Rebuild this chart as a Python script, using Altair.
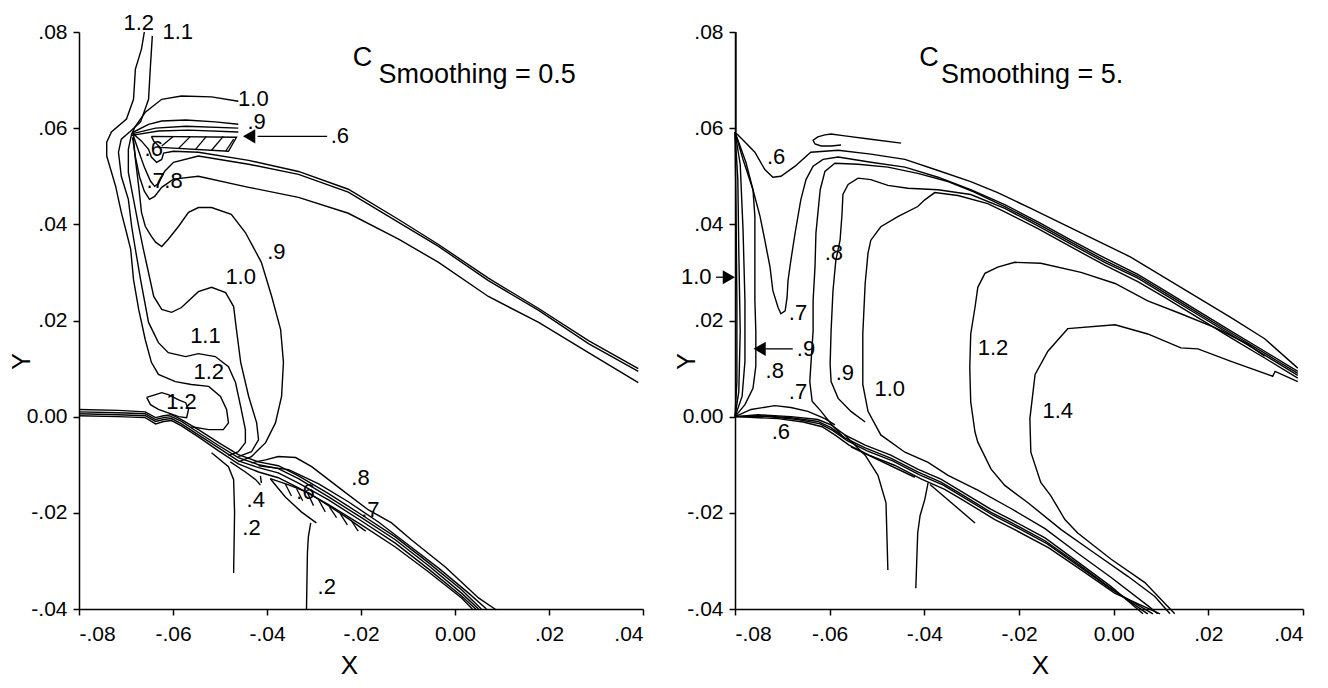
import altair as alt
import pandas as pd

FONT = "Liberation Sans"
X_TICKS = [-0.08, -0.06, -0.04, -0.02, 0.0, 0.02, 0.04]
Y_TICKS = [-0.04, -0.02, 0.0, 0.02, 0.04, 0.06, 0.08]

# ---------------- LEFT PANEL (C_smoothing = 0.5) : contour polylines (X, Y) ----------------
l_c12_outer = [(-0.0661,0.0800),(-0.0667,0.0765),(-0.0680,0.0723),(-0.0684,0.0660),(-0.0699,0.0619),(-0.0731,0.0592),
               (-0.0741,0.0571),(-0.0741,0.0542),(-0.0722,0.0479),(-0.0710,0.0425),(-0.0699,0.0383),(-0.0690,0.0348),
               (-0.0684,0.0285),(-0.0673,0.0223),(-0.0659,0.0160),(-0.0646,0.0113),(-0.0631,0.0088),(-0.0595,0.0073),
               (-0.0561,0.0067),(-0.0524,0.0063),(-0.0499,0.0042),(-0.0486,0.0015),(-0.0482,-0.0013),(-0.0493,-0.0027),
               (-0.0524,-0.0027),(-0.0561,-0.0021)]
l_c11 = [(-0.0644,0.0792),(-0.0648,0.0729),(-0.0652,0.0660),(-0.0669,0.0613),(-0.0690,0.0594),(-0.0710,0.0577),
         (-0.0716,0.0550),(-0.0710,0.0500),(-0.0695,0.0452),(-0.0688,0.0396),(-0.0680,0.0348),(-0.0669,0.0285),
         (-0.0652,0.0196),(-0.0631,0.0154),(-0.0610,0.0133),(-0.0573,0.0125),(-0.0546,0.0131),(-0.0510,0.0125),
         (-0.0482,0.0104),(-0.0467,0.0071),(-0.0456,0.0021),(-0.0446,-0.0027),(-0.0446,-0.0054),(-0.0461,-0.0073),
         (-0.0482,-0.0081)]
l_c10 = [(-0.0461,0.0656),(-0.0518,0.0665),(-0.0582,0.0667),(-0.0624,0.0660),(-0.0659,0.0633),(-0.0680,0.0604),
         (-0.0688,0.0588),(-0.0695,0.0556),(-0.0695,0.0508),(-0.0684,0.0452),(-0.0673,0.0396),(-0.0663,0.0348),
         (-0.0656,0.0317),(-0.0641,0.0250),(-0.0624,0.0223),(-0.0603,0.0217),(-0.0582,0.0227),(-0.0546,0.0260),
         (-0.0518,0.0269),(-0.0488,0.0258),(-0.0471,0.0229),(-0.0465,0.0181),(-0.0456,0.0113),(-0.0439,0.0042),
         (-0.0422,-0.0013),(-0.0418,-0.0048),(-0.0433,-0.0073),(-0.0461,-0.0083)]
l_c09 = [(-0.0461,0.0608),(-0.0510,0.0613),(-0.0573,0.0617),(-0.0624,0.0615),(-0.0652,0.0608),(-0.0684,0.0592),
         (-0.0684,0.0577),(-0.0680,0.0535),(-0.0673,0.0479),(-0.0667,0.0425),(-0.0659,0.0396),(-0.0646,0.0375),
         (-0.0637,0.0363),(-0.0624,0.0354),(-0.0610,0.0369),(-0.0588,0.0396),(-0.0567,0.0425),(-0.0546,0.0435),
         (-0.0518,0.0435),(-0.0476,0.0421),(-0.0446,0.0383),(-0.0429,0.0352),(-0.0412,0.0321),(-0.0390,0.0250),
         (-0.0371,0.0181),(-0.0365,0.0113),(-0.0369,0.0042),(-0.0382,-0.0013),(-0.0403,-0.0054),(-0.0433,-0.0083),
         (-0.0461,-0.0094)]
l_above_1 = [(-0.0688,0.0588),(-0.0637,0.0600),(-0.0573,0.0604),(-0.0461,0.0600)]
l_above_2 = [(-0.0688,0.0585),(-0.0631,0.0594),(-0.0567,0.0596),(-0.0461,0.0592)]
l_body_top = [(-0.0646,0.0583),(-0.0465,0.0581),(-0.0482,0.0552),(-0.0627,0.0560),(-0.0641,0.0573),(-0.0646,0.0583)]
l_c06 = [(-0.0684,0.0588),(-0.0667,0.0573),(-0.0652,0.0556),(-0.0646,0.0540),(-0.0635,0.0529),(-0.0624,0.0535),
         (-0.0620,0.0548),(-0.0599,0.0552),(-0.0546,0.0550),(-0.0439,0.0533),(-0.0333,0.0510),(-0.0227,0.0473),
         (-0.0120,0.0410),(-0.0035,0.0358),(0.0071,0.0288),(0.0178,0.0225),(0.0284,0.0158),(0.0390,0.0100)]
l_c07 = [(-0.0684,0.0583),(-0.0673,0.0552),(-0.0661,0.0519),(-0.0648,0.0490),(-0.0639,0.0479),(-0.0631,0.0485),
         (-0.0618,0.0510),(-0.0599,0.0529),(-0.0546,0.0542),(-0.0439,0.0525),(-0.0333,0.0504),(-0.0227,0.0467),
         (-0.0120,0.0404),(-0.0035,0.0354),(0.0071,0.0283),(0.0178,0.0221),(0.0284,0.0152),(0.0390,0.0094)]
l_c08 = [(-0.0686,0.0581),(-0.0680,0.0540),(-0.0671,0.0498),(-0.0661,0.0469),(-0.0650,0.0452),(-0.0639,0.0458),
         (-0.0624,0.0477),(-0.0599,0.0494),(-0.0546,0.0500),(-0.0439,0.0477),(-0.0333,0.0456),(-0.0227,0.0423),
         (-0.0120,0.0369),(-0.0035,0.0321),(0.0071,0.0250),(0.0178,0.0196),(0.0284,0.0133),(0.0390,0.0071)]
l_wall_1 = [(-0.0800,0.0015),(-0.0716,0.0013),(-0.0659,0.0010),(-0.0637,-0.0002),(-0.0620,0.0002),(-0.0603,0.0004),
            (-0.0582,-0.0006),(-0.0546,-0.0027),(-0.0503,-0.0054),(-0.0461,-0.0079),(-0.0418,-0.0094),(-0.0376,-0.0102),
            (-0.0333,-0.0123),(-0.0269,-0.0160),(-0.0199,-0.0204),(-0.0127,-0.0250),(-0.0056,-0.0304),(0.0014,-0.0360),
            (0.0056,-0.0400)]
l_wall_2 = [(-0.0800,0.0010),(-0.0716,0.0008),(-0.0659,0.0006),(-0.0637,-0.0006),(-0.0620,-0.0002),(-0.0603,0.0000),
            (-0.0582,-0.0010),(-0.0546,-0.0033),(-0.0503,-0.0060),(-0.0461,-0.0085),(-0.0418,-0.0100),(-0.0376,-0.0108),
            (-0.0333,-0.0129),(-0.0269,-0.0167),(-0.0199,-0.0210),(-0.0127,-0.0256),(-0.0056,-0.0310),(0.0014,-0.0367),
            (0.0050,-0.0400)]
l_wall_3 = [(-0.0800,0.0006),(-0.0716,0.0004),(-0.0659,0.0002),(-0.0637,-0.0010),(-0.0620,-0.0006),(-0.0603,-0.0004),
            (-0.0582,-0.0015),(-0.0546,-0.0038),(-0.0503,-0.0065),(-0.0461,-0.0092),(-0.0418,-0.0106),(-0.0376,-0.0117),
            (-0.0333,-0.0138),(-0.0269,-0.0173),(-0.0199,-0.0217),(-0.0127,-0.0263),(-0.0056,-0.0317),(0.0014,-0.0373),
            (0.0044,-0.0400)]
l_wall_4 = [(-0.0800,0.0002),(-0.0716,0.0000),(-0.0659,-0.0002),(-0.0637,-0.0015),(-0.0620,-0.0010),(-0.0603,-0.0008),
            (-0.0582,-0.0019),(-0.0546,-0.0042),(-0.0503,-0.0071),(-0.0461,-0.0098),(-0.0418,-0.0115),(-0.0376,-0.0127),
            (-0.0333,-0.0148),(-0.0269,-0.0183),(-0.0199,-0.0225),(-0.0127,-0.0271),(-0.0056,-0.0323),(0.0014,-0.0377),
            (0.0037,-0.0400)]
l_lower_08 = [(-0.0433,-0.0096),(-0.0403,-0.0090),(-0.0376,-0.0083),(-0.0339,-0.0085),(-0.0305,-0.0104),(-0.0269,-0.0131),
              (-0.0233,-0.0158),(-0.0184,-0.0194),(-0.0135,-0.0221),(-0.0093,-0.0256),(-0.0020,-0.0313),(0.0050,-0.0377),
              (0.0088,-0.0402)]
l_lower_07 = [(-0.0418,-0.0102),(-0.0354,-0.0110),(-0.0290,-0.0140),(-0.0227,-0.0177),(-0.0163,-0.0219),(-0.0099,-0.0267),
              (-0.0035,-0.0315),(0.0029,-0.0367),(0.0067,-0.0400)]
l_island_12 = [(-0.0656,0.0040),(-0.0637,0.0046),(-0.0624,0.0050),(-0.0610,0.0046),(-0.0588,0.0035),(-0.0573,0.0029),
               (-0.0567,0.0015),(-0.0571,-0.0002),(-0.0588,0.0000),(-0.0610,0.0008),(-0.0631,0.0015),(-0.0648,0.0025),
               (-0.0656,0.0040)]
l_c02_a = [(-0.0518,-0.0075),(-0.0482,-0.0104),(-0.0471,-0.0131),(-0.0469,-0.0200),(-0.0471,-0.0325)]
l_c04 = [(-0.0478,-0.0094),(-0.0446,-0.0115),(-0.0424,-0.0131),(-0.0414,-0.0142)]
l_c04_hook = [(-0.0414,-0.0123),(-0.0412,-0.0138)]
l_c02_b = [(-0.0307,-0.0221),(-0.0312,-0.0250),(-0.0314,-0.0283),(-0.0316,-0.0402)]
l_body_low_lo = [(-0.0393,-0.0129),(-0.0361,-0.0167),(-0.0327,-0.0198),(-0.0295,-0.0221)]
l_body_low_up = [(-0.0393,-0.0129),(-0.0354,-0.0142),(-0.0312,-0.0158),(-0.0269,-0.0185),(-0.0227,-0.0212),(-0.0190,-0.0238)]

left_lines = {
    "c12o": l_c12_outer, "c11": l_c11, "c10": l_c10, "c09": l_c09, "ab1": l_above_1, "ab2": l_above_2,
    "bt": l_body_top, "c06": l_c06, "c07": l_c07, "c08": l_c08, "w1": l_wall_1, "w2": l_wall_2,
    "w3": l_wall_3, "w4": l_wall_4, "lo8": l_lower_08, "lo7": l_lower_07, "isl": l_island_12,
    "c2a": l_c02_a, "c4": l_c04, "c4h": l_c04_hook, "c2b": l_c02_b, "blo": l_body_low_lo, "bup": l_body_low_up,
}

# hatching strokes and arrow shafts (x, y, x2, y2)
left_segments = [
    (-0.0624,0.0563,-0.0599,0.0583),(-0.0588,0.0558,-0.0563,0.0583),(-0.0552,0.0556,-0.0529,0.0583),
    (-0.0518,0.0554,-0.0493,0.0583),(-0.0488,0.0552,-0.0471,0.0577),
    (-0.0361,-0.0140,-0.0348,-0.0165),(-0.0337,-0.0150,-0.0324,-0.0175),(-0.0314,-0.0158,-0.0301,-0.0185),
    (-0.0290,-0.0173,-0.0276,-0.0198),(-0.0267,-0.0188,-0.0252,-0.0210),(-0.0244,-0.0202,-0.0229,-0.0225),
    (-0.0220,-0.0217,-0.0206,-0.0238),
    (-0.0272,0.0583,-0.0420,0.0583),
]
left_heads = [(-0.0438,0.0583,"L")]
left_labels = [
    ("1.2",-0.0673,0.0819),("1.1",-0.0590,0.0800),("1.0",-0.0429,0.0660),(".9",-0.0422,0.0613),
    (".6",-0.0245,0.0583),(".6",-0.0641,0.0556),(".7",-0.0637,0.0490),(".8",-0.0599,0.0490),
    (".9",-0.0380,0.0342),("1.0",-0.0456,0.0290),("1.1",-0.0531,0.0167),("1.2",-0.0524,0.0092),
    ("1.2",-0.0582,0.0031),(".8",-0.0201,-0.0127),(".7",-0.0180,-0.0194),(".6",-0.0318,-0.0156),
    (".4",-0.0424,-0.0173),(".2",-0.0433,-0.0231),(".2",-0.0273,-0.0354),
]
left_title = [("C",-0.0197,0.0746,"center"),("Smoothing = 0.5",-0.0163,0.0711,"left")]

# ---------------- RIGHT PANEL (C_smoothing = 5.) ----------------
r_axis_top = [(-0.0798,0.0800),(-0.0798,0.0592)]
r_a1 = [(-0.0800,0.0592),(-0.0798,0.0451),(-0.0796,0.0241),(-0.0796,0.0073),(-0.0800,0.0000)]
r_a2 = [(-0.0800,0.0592),(-0.0794,0.0493),(-0.0792,0.0346),(-0.0789,0.0178),(-0.0792,0.0052),(-0.0800,0.0000)]
r_a3 = [(-0.0800,0.0592),(-0.0789,0.0525),(-0.0783,0.0388),(-0.0779,0.0241),(-0.0779,0.0115),(-0.0785,0.0042),(-0.0800,0.0000)]
r_a4 = [(-0.0800,0.0592),(-0.0777,0.0529),(-0.0762,0.0472),(-0.0758,0.0416),(-0.0758,0.0241),(-0.0756,0.0178),
        (-0.0756,0.0105),(-0.0762,0.0059),(-0.0779,0.0025),(-0.0800,0.0000)]
r_c06 = [(-0.0800,0.0592),(-0.0779,0.0571),(-0.0758,0.0550),(-0.0737,0.0514),(-0.0720,0.0498),(-0.0703,0.0500),
         (-0.0673,0.0521),(-0.0640,0.0550),(-0.0582,0.0554),(-0.0513,0.0546),(-0.0441,0.0535),(-0.0371,0.0512),
         (-0.0302,0.0489),(-0.0245,0.0466),(-0.0175,0.0433),(-0.0069,0.0382),(0.0036,0.0332),(0.0142,0.0269),
         (0.0248,0.0206),(0.0319,0.0162),(0.0389,0.0101)]
r_c07 = [(-0.0800,0.0592),(-0.0783,0.0535),(-0.0762,0.0472),(-0.0747,0.0416),(-0.0737,0.0367),(-0.0726,0.0311),
         (-0.0720,0.0262),(-0.0709,0.0227),(-0.0703,0.0214),(-0.0694,0.0220),(-0.0690,0.0248),(-0.0688,0.0283),
         (-0.0682,0.0325),(-0.0673,0.0382),(-0.0661,0.0451),(-0.0650,0.0493),(-0.0635,0.0521),(-0.0614,0.0535),
         (-0.0582,0.0540),(-0.0513,0.0529),(-0.0441,0.0519),(-0.0371,0.0498),(-0.0302,0.0472),(-0.0230,0.0441),
         (-0.0160,0.0405),(-0.0090,0.0367),(-0.0019,0.0330),(0.0051,0.0296),(0.0108,0.0262),(0.0178,0.0220),
         (0.0248,0.0178),(0.0319,0.0136),(0.0389,0.0094)]
r_c08 = [(-0.0568,-0.0046),(-0.0597,-0.0015),(-0.0618,0.0011),(-0.0637,0.0032),(-0.0642,0.0073),(-0.0635,0.0178),
         (-0.0635,0.0241),(-0.0631,0.0311),(-0.0629,0.0382),(-0.0620,0.0472),(-0.0610,0.0510),(-0.0589,0.0527),
         (-0.0540,0.0525),(-0.0477,0.0519),(-0.0414,0.0506),(-0.0350,0.0489),(-0.0297,0.0468),(-0.0230,0.0437),
         (-0.0160,0.0401),(-0.0090,0.0363),(-0.0019,0.0325),(0.0051,0.0292),(0.0108,0.0258),(0.0178,0.0216),
         (0.0248,0.0174),(0.0319,0.0132),(0.0389,0.0090)]
r_c09 = [(-0.0525,-0.0011),(-0.0555,0.0011),(-0.0582,0.0038),(-0.0597,0.0073),(-0.0599,0.0109),(-0.0597,0.0178),
         (-0.0593,0.0262),(-0.0587,0.0325),(-0.0578,0.0367),(-0.0574,0.0420),(-0.0572,0.0462),(-0.0561,0.0483),
         (-0.0540,0.0496),(-0.0513,0.0493),(-0.0477,0.0481),(-0.0435,0.0475),(-0.0371,0.0472),(-0.0302,0.0462),
         (-0.0230,0.0433),(-0.0160,0.0397),(-0.0090,0.0359),(-0.0019,0.0321),(0.0051,0.0288),(0.0108,0.0254),
         (0.0178,0.0212),(0.0248,0.0170),(0.0319,0.0128),(0.0389,0.0086)]
r_c10 = [(0.0093,-0.0410),(0.0072,-0.0393),(-0.0006,-0.0334),(-0.0076,-0.0284),(-0.0145,-0.0233),(-0.0217,-0.0191),
         (-0.0287,-0.0153),(-0.0350,-0.0122),(-0.0392,-0.0095),(-0.0441,-0.0074),(-0.0492,-0.0038),(-0.0519,0.0011),
         (-0.0530,0.0067),(-0.0530,0.0172),(-0.0525,0.0277),(-0.0519,0.0340),(-0.0513,0.0367),(-0.0492,0.0395),
         (-0.0456,0.0416),(-0.0414,0.0437),(-0.0399,0.0451),(-0.0378,0.0466),(-0.0329,0.0460),(-0.0266,0.0443),
         (-0.0230,0.0426),(-0.0160,0.0391),(-0.0090,0.0353),(-0.0019,0.0315),(0.0051,0.0281),(0.0108,0.0248),
         (0.0178,0.0206),(0.0248,0.0164),(0.0319,0.0122),(0.0389,0.0080)]
r_c12 = [(0.0319,0.0126),(0.0283,0.0151),(0.0214,0.0185),(0.0142,0.0214),(0.0072,0.0241),(0.0003,0.0277),
         (-0.0069,0.0300),(-0.0154,0.0319),(-0.0209,0.0321),(-0.0245,0.0311),(-0.0272,0.0298),(-0.0287,0.0269),
         (-0.0293,0.0227),(-0.0302,0.0172),(-0.0304,0.0101),(-0.0302,0.0031),(-0.0293,-0.0032),(-0.0287,-0.0053),
         (-0.0259,-0.0109),(-0.0230,-0.0143),(-0.0181,-0.0179),(-0.0111,-0.0235),(-0.0040,-0.0284),(0.0030,-0.0332),
         (0.0087,-0.0374),(0.0119,-0.0410)]
r_c14 = [(0.0389,0.0073),(0.0341,0.0094),(0.0336,0.0084),(0.0248,0.0115),(0.0178,0.0141),(0.0142,0.0143),
         (0.0072,0.0172),(0.0003,0.0191),(-0.0097,0.0183),(-0.0139,0.0136),(-0.0166,0.0088),(-0.0177,-0.0004),
         (-0.0175,-0.0074),(-0.0154,-0.0137),(-0.0133,-0.0164),(-0.0103,-0.0214),(-0.0076,-0.0242),(-0.0006,-0.0296),
         (0.0066,-0.0345),(0.0129,-0.0410)]
r_wall_1 = [(-0.0800,0.0000),(-0.0751,0.0004),(-0.0682,0.0000),(-0.0625,-0.0006),(-0.0597,-0.0017),(-0.0568,-0.0038),
            (-0.0525,-0.0059),(-0.0471,-0.0080),(-0.0414,-0.0109),(-0.0365,-0.0130),(-0.0329,-0.0151),(-0.0259,-0.0193),
            (-0.0217,-0.0214),(-0.0145,-0.0252),(-0.0076,-0.0302),(-0.0006,-0.0353),(0.0062,-0.0410)]
r_wall_2 = [(-0.0800,0.0000),(-0.0751,0.0002),(-0.0682,-0.0002),(-0.0625,-0.0010),(-0.0597,-0.0023),(-0.0568,-0.0044),
            (-0.0525,-0.0065),(-0.0471,-0.0086),(-0.0414,-0.0115),(-0.0365,-0.0136),(-0.0329,-0.0157),(-0.0259,-0.0199),
            (-0.0217,-0.0220),(-0.0145,-0.0258),(-0.0076,-0.0306),(-0.0006,-0.0357),(0.0072,-0.0410)]
r_wall_3 = [(-0.0800,0.0000),(-0.0730,0.0000),(-0.0667,-0.0006),(-0.0620,-0.0015),(-0.0593,-0.0029),(-0.0563,-0.0050),
            (-0.0521,-0.0071),(-0.0467,-0.0092),(-0.0410,-0.0121),(-0.0361,-0.0142),(-0.0325,-0.0163),(-0.0255,-0.0205),
            (-0.0213,-0.0226),(-0.0141,-0.0264),(-0.0072,-0.0312),(-0.0002,-0.0361),(0.0083,-0.0410)]
r_wall_4 = [(-0.0800,0.0000),(-0.0709,-0.0004),(-0.0656,-0.0011),(-0.0616,-0.0021),(-0.0589,-0.0038),(-0.0559,-0.0059),
            (-0.0517,-0.0080),(-0.0463,-0.0101),(-0.0406,-0.0130),(-0.0357,-0.0151),(-0.0321,-0.0172),(-0.0251,-0.0214),
            (-0.0209,-0.0235),(-0.0137,-0.0273),(-0.0068,-0.0319),(0.0002,-0.0367),(0.0098,-0.0410)]
r_hump = [(-0.0800,0.0000),(-0.0766,0.0015),(-0.0716,0.0023),(-0.0682,0.0019),(-0.0646,0.0011),(-0.0610,-0.0004),(-0.0589,-0.0017)]
r_v1 = [(-0.0568,-0.0038),(-0.0525,-0.0080),(-0.0498,-0.0122),(-0.0481,-0.0179),(-0.0477,-0.0319)]
r_v2 = [(-0.0392,-0.0137),(-0.0399,-0.0172),(-0.0409,-0.0206),(-0.0414,-0.0242),(-0.0418,-0.0357)]
r_diag = [(-0.0388,-0.0141),(-0.0293,-0.0221)]
r_under = [(-0.0555,-0.0063),(-0.0420,-0.0126)]
r_loop = [(-0.0449,0.0569),(-0.0513,0.0577),(-0.0568,0.0584),(-0.0597,0.0588),(-0.0610,0.0586),(-0.0625,0.0582),
          (-0.0635,0.0575),(-0.0631,0.0567),(-0.0618,0.0563),(-0.0597,0.0563),(-0.0576,0.0565)]

right_lines = {
    "ax": r_axis_top, "a1": r_a1, "a2": r_a2, "a3": r_a3, "a4": r_a4, "c06": r_c06, "c07": r_c07,
    "c08": r_c08, "c09": r_c09, "c10": r_c10, "c12": r_c12, "c14": r_c14, "w1": r_wall_1, "w2": r_wall_2,
    "w3": r_wall_3, "w4": r_wall_4, "hump": r_hump, "v1": r_v1, "v2": r_v2, "dg": r_diag, "un": r_under,
    "loop": r_loop,
}
right_segments = [(-0.0840,0.0290,-0.0822,0.0290),(-0.0678,0.0141,-0.0736,0.0141)]
right_heads = [(-0.0813,0.0290,"R"),(-0.0748,0.0141,"L")]
right_labels = [
    (".6",-0.0713,0.0540),(".8",-0.0591,0.0340),(".7",-0.0667,0.0216),(".8",-0.0716,0.0094),
    (".7",-0.0667,0.0052),(".9",-0.0568,0.0090),("1.0",-0.0473,0.0057),(".6",-0.0703,-0.0032),
    ("1.2",-0.0255,0.0143),("1.4",-0.0118,0.0011),(".9",-0.0650,0.0141),("1.0",-0.0882,0.0290),
]
right_title = [("C",-0.0390,0.0745,"center"),("Smoothing = 5.",-0.0365,0.0711,"left")]

LABEL_EXPR = ("datum.value == 0 ? '0.00' : "
              "replace(replace(replace(format(datum.value, '.2f'), '0.', '.'), '\u2212', '-'), '\u2013', '-')")


def panel(lines, segments, heads, labels, title, w, h, xtx, ytx, yty):
    xs = alt.Scale(domain=[-0.08, 0.04], nice=False, zero=False)
    ys = alt.Scale(domain=[-0.04, 0.08], nice=False, zero=False)
    rows = []
    for name, pts in lines.items():
        for i, (x, y) in enumerate(pts):
            rows.append({"id": name, "i": i, "x": x, "y": y})
    df_lines = pd.DataFrame(rows)
    df_seg = pd.DataFrame(segments, columns=["x", "y", "x2", "y2"])
    df_head = pd.DataFrame(heads, columns=["x", "y", "d"])
    df_lab = pd.DataFrame(labels, columns=["t", "x", "y"])
    df_tc = pd.DataFrame([t for t in title if t[3] == "center"], columns=["t", "x", "y", "a"])
    df_tl = pd.DataFrame([t for t in title if t[3] == "left"], columns=["t", "x", "y", "a"])

    xaxis = alt.Axis(values=X_TICKS, labelExpr=LABEL_EXPR, title="X", grid=False, tickSize=6,
                     labelPadding=8, titleX=xtx, titleY=56, titleAlign="center", titleBaseline="middle")
    yaxis = alt.Axis(values=Y_TICKS, labelExpr=LABEL_EXPR, title="Y", grid=False, tickSize=6,
                     labelPadding=6, titleX=ytx, titleY=yty, titleAlign="center", titleBaseline="middle",
                     titleFontSize=25)

    base_lines = alt.Chart(df_lines).mark_line(color="black", strokeWidth=1.4).encode(
        x=alt.X("x:Q", scale=xs, axis=xaxis),
        y=alt.Y("y:Q", scale=ys, axis=yaxis),
        detail="id:N",
        order="i:Q",
    )
    segs = alt.Chart(df_seg).mark_rule(color="black", strokeWidth=1.3).encode(
        x=alt.X("x:Q", scale=xs), y=alt.Y("y:Q", scale=ys), x2="x2:Q", y2="y2:Q")
    hd = alt.Chart(df_head).mark_point(filled=True, color="black", size=200, opacity=1).encode(
        x=alt.X("x:Q", scale=xs), y=alt.Y("y:Q", scale=ys),
        shape=alt.Shape("d:N", scale=alt.Scale(domain=["L", "R"], range=["triangle-left", "triangle-right"]), legend=None))
    txt = alt.Chart(df_lab).mark_text(font=FONT, fontSize=22, color="black").encode(
        x=alt.X("x:Q", scale=xs), y=alt.Y("y:Q", scale=ys), text="t:N")
    tc = alt.Chart(df_tc).mark_text(font=FONT, fontSize=27, color="black", align="center").encode(
        x=alt.X("x:Q", scale=xs), y=alt.Y("y:Q", scale=ys), text="t:N")
    tl = alt.Chart(df_tl).mark_text(font=FONT, fontSize=27, color="black", align="left").encode(
        x=alt.X("x:Q", scale=xs), y=alt.Y("y:Q", scale=ys), text="t:N")
    return alt.layer(base_lines, segs, hd, txt, tc, tl).properties(width=w, height=h)


left = panel(left_lines, left_segments, left_heads, left_labels, left_title, 564, 577, 270, -58, 329)
right = panel(right_lines, right_segments, right_heads, right_labels, right_title, 568, 577, 305, -49, 329)

chart = alt.hconcat(left, right, spacing=92).properties(
    bounds="flush", padding={"left": 1, "top": 3, "right": 5, "bottom": 3}
).configure_view(stroke=None).configure_axis(
    domainColor="black", domainWidth=1.5, tickColor="black", tickWidth=1.5,
    labelColor="black", labelFont=FONT, labelFontSize=21,
    titleColor="black", titleFont=FONT, titleFontSize=26, titleFontWeight="normal",
)

chart.save("out.html", embed_options={"renderer": "svg", "actions": False})
